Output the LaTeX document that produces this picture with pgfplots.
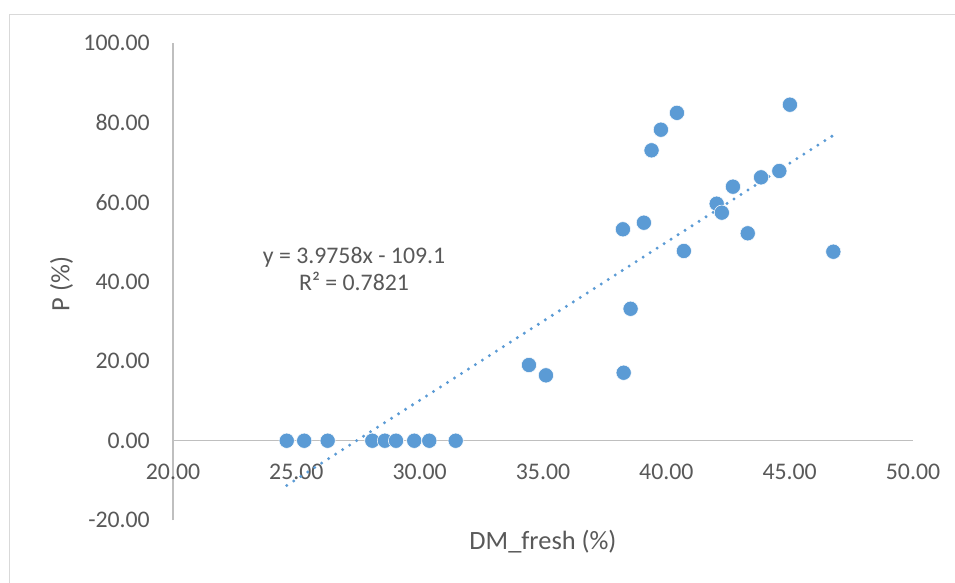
\documentclass[border=0pt]{standalone}
\usepackage{pgfplots}
\pgfplotsset{compat=1.18}
\usepackage{fontspec}
\setmainfont{Carlito}
\definecolor{txt}{HTML}{595959}
\definecolor{axl}{HTML}{BFBFBF}
\definecolor{brd}{HTML}{D9D9D9}
\definecolor{blu}{HTML}{5B9BD5}
\begin{document}
\begin{tikzpicture}[x=1pt,y=1pt]
\useasboundingbox (0,0) rectangle (955,583);
\fill[white] (0,0) rectangle (955,583);
\draw[brd, line width=1.3pt] (9.5,0) -- (9.5,568.5) -- (955,568.5);
\begin{axis}[
  at={(173pt,62.8pt)}, anchor=south west,
  scale only axis, width=740pt, height=476.9pt,
  xmin=20, xmax=50, ymin=-20, ymax=100,
  axis x line=middle, axis y line=left,
  x axis line style={axl, line width=1.2pt, -},
  y axis line style={axl, line width=1.2pt, -},
  hide obscured x ticks=false, hide obscured y ticks=false,
  major tick length=0pt,
  xtick={20,25,30,35,40,45,50},
  xticklabels={20.00,25.00,30.00,35.00,40.00,45.00,50.00},
  ytick={-20,0,20,40,60,80,100},
  yticklabels={-20.00,0.00,20.00,40.00,60.00,80.00,100.00},
  xticklabel style={font=\fontsize{23.8}{28}\selectfont, text=txt, anchor=center, inner sep=0pt, yshift=-31pt},
  yticklabel style={font=\fontsize{23.8}{28}\selectfont, text=txt, anchor=east, inner sep=0pt, xshift=-23pt},
  xlabel={DM\_fresh (\%)},
  xlabel style={at={(rel axis cs:0.5,-0.0451)}, anchor=center, inner sep=0pt, font=\fontsize{26.4}{31}\selectfont, text=txt},
  clip=false,
]
\addplot[only marks, mark=*, mark size=7.6pt, mark options={fill=blu, draw=white, line width=0.5pt}] table {
x y
24.61 0
25.32 0
26.27 0
28.08 0
28.59 0
29.04 0
29.78 0
30.39 0
31.46 0
34.43 19.05
35.12 16.45
38.27 17.11
38.55 33.2
38.24 53.2
39.09 54.86
39.40 73.07
39.78 78.26
40.43 82.5
40.71 47.74
42.04 59.64
42.25 57.38
42.70 63.92
43.30 52.19
43.84 66.27
44.58 67.87
45.01 84.55
46.77 47.56
};
\addplot[blu, line width=3.3pt, line cap=round, dash pattern=on 0pt off 8.3pt] coordinates {(24.61,-11.26) (46.77,76.85)};
\node[align=center, text=txt, font=\fontsize{23.8}{27}\selectfont, inner sep=0pt] at (axis cs:27.34,43.3) {y = 3.9758x - 109.1\\R² = 0.7821};
\end{axis}
\node[rotate=90, anchor=center, inner sep=0pt, text=txt, font=\fontsize{26.4}{31}\selectfont] at (61.5,299) {P (\%)};
\end{tikzpicture}
\end{document}
